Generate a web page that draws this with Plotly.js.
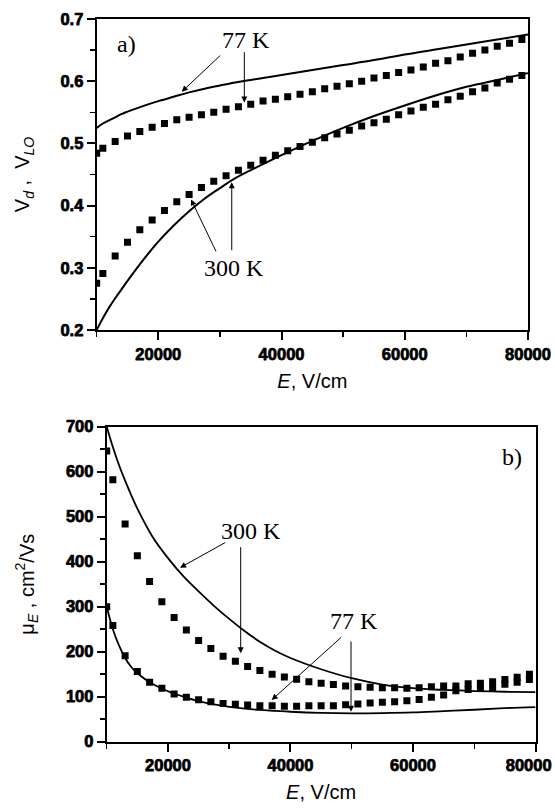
<!DOCTYPE html>
<html>
<head>
<meta charset="utf-8">
<script src="https://cdn.plot.ly/plotly-3.0.1.min.js"></script>
<style>
html,body{margin:0;padding:0;background:#fff;}
#chart{width:555px;height:812px;}
#chart .xtick text, #chart .ytick text, #chart .x2tick text, #chart .y2tick text {
  font-weight: bold !important; stroke: #000; stroke-width: 0.75px; stroke-linejoin: round;
}
</style>
</head>
<body>
<div id="chart"></div>
<script>
// Field values for the square points, V/cm
const E_points = [10000, 11000, 13000, 15000, 17000, 19000, 21000, 23000, 25000, 27000, 29000, 31000, 33000, 35000, 37000, 39000, 41000, 43000, 45000, 47000, 49000, 51000, 53000, 55000, 57000, 59000, 61000, 63000, 65000, 67000, 69000, 71000, 73000, 75000, 77000, 79000];
// Field values for the solid curves, V/cm
const E_curve = [10000, 11000, 12000, 13000, 14000, 15000, 17500, 20000, 22500, 25000, 27500, 30000, 32500, 35000, 37500, 40000, 45000, 50000, 55000, 60000, 65000, 70000, 75000, 80000];

// Panel a) velocities
const v_points_77K = [0.484, 0.492, 0.503, 0.512, 0.519, 0.526, 0.532, 0.538, 0.542, 0.546, 0.550, 0.555, 0.559, 0.563, 0.568, 0.571, 0.575, 0.579, 0.583, 0.588, 0.592, 0.596, 0.600, 0.605, 0.609, 0.614, 0.618, 0.623, 0.629, 0.633, 0.639, 0.645, 0.650, 0.656, 0.661, 0.667];
const v_points_300K = [0.275, 0.291, 0.319, 0.341, 0.361, 0.377, 0.392, 0.406, 0.418, 0.429, 0.439, 0.448, 0.457, 0.465, 0.473, 0.481, 0.488, 0.495, 0.502, 0.509, 0.515, 0.521, 0.528, 0.533, 0.539, 0.546, 0.552, 0.558, 0.563, 0.570, 0.576, 0.583, 0.589, 0.597, 0.603, 0.609];
const v_curve_77K = [0.525, 0.532, 0.537, 0.542, 0.547, 0.551, 0.560, 0.568, 0.575, 0.582, 0.588, 0.593, 0.598, 0.602, 0.606, 0.610, 0.618, 0.626, 0.634, 0.643, 0.651, 0.659, 0.667, 0.675];
const v_curve_300K = [0.200, 0.219, 0.236, 0.251, 0.265, 0.279, 0.312, 0.342, 0.368, 0.391, 0.411, 0.428, 0.444, 0.457, 0.469, 0.481, 0.504, 0.525, 0.544, 0.561, 0.577, 0.591, 0.602, 0.613];

// Panel b) mobilities, cm2/Vs
const mu_points_300K = [646, 582, 484, 413, 356, 311, 276, 248, 225, 207, 190, 179, 167, 158, 150, 144, 139, 133, 130, 127, 124, 122, 121, 120, 120, 119, 120, 122, 124, 124, 129, 130, 133, 138, 143, 150];
const mu_points_77K = [300, 258, 191, 156, 132, 119, 106, 99, 93, 89, 85, 83, 81.5, 80, 80, 79, 79, 80, 80, 80, 82, 84, 86, 87.5, 89, 91, 94, 99, 104, 113, 116, 118, 119, 127.5, 132, 138];
const mu_curve_300K = [700, 655, 615, 580, 548, 518, 455, 408, 368, 334, 302, 273, 246, 222, 202, 186, 161, 141, 127, 119, 115, 112.5, 111, 110];
const mu_curve_77K = [300, 250, 214, 186, 166, 152, 128, 112, 100, 90, 83, 77.5, 73.5, 70.5, 68.5, 66.5, 64, 63, 63.5, 65, 68, 71, 74.5, 77];

// Tick labels
const xTickVals = [20000, 40000, 60000, 80000];
const xTickText_a = ['20000', '40000', '60000', '80000'];
const xTickText_b = ['20000', '40000', '60000', '80000&nbsp;&nbsp;&nbsp;'];
const yTickVals_a = [0.2, 0.3, 0.4, 0.5, 0.6, 0.7];
const yTickText_a = ['0.2', '0.3', '0.4', '0.5', '0.6', '0.7'];
const yTickVals_b = [0, 100, 200, 300, 400, 500, 600, 700];
const yTickText_b = ['0', '100', '200', '300', '400', '500', '600', '700'];

const sans = 'Arial, "Liberation Sans", sans-serif';
const serif = '"Times New Roman", "Liberation Serif", serif';

const sq = {symbol: 'square', size: 7, color: '#000', line: {width: 0}};
const sp = {shape: 'spline', smoothing: 1, color: '#000'};
const traces = [
  {x: E_curve, y: v_curve_77K, mode: 'lines', line: Object.assign({width: 2}, sp), xaxis: 'x', yaxis: 'y', name: '77 K model'},
  {x: E_curve, y: v_curve_300K, mode: 'lines', line: Object.assign({width: 2}, sp), xaxis: 'x', yaxis: 'y', name: '300 K model'},
  {x: E_points, y: v_points_77K, mode: 'markers', marker: sq, xaxis: 'x', yaxis: 'y', name: '77 K'},
  {x: E_points, y: v_points_300K, mode: 'markers', marker: sq, xaxis: 'x', yaxis: 'y', name: '300 K'},
  {x: E_curve, y: mu_curve_300K, mode: 'lines', line: Object.assign({width: 1.8}, sp), xaxis: 'x2', yaxis: 'y2', name: '300 K model'},
  {x: E_curve, y: mu_curve_77K, mode: 'lines', line: Object.assign({width: 1.8}, sp), xaxis: 'x2', yaxis: 'y2', name: '77 K model'},
  {x: E_points, y: mu_points_300K, mode: 'markers', marker: sq, xaxis: 'x2', yaxis: 'y2', name: '300 K'},
  {x: E_points, y: mu_points_77K, mode: 'markers', marker: sq, xaxis: 'x2', yaxis: 'y2', name: '77 K'}
];

const tickfont = {family: sans, size: 16.5, weight: 700, color: '#000'};
const titlefont = {family: sans, size: 20, color: '#000'};
function axisBase(extra) {
  return Object.assign({
    showgrid: false, zeroline: false, showline: true, linecolor: '#000', linewidth: 2,
    mirror: true, ticks: 'outside', ticklen: 8, tickwidth: 2, tickcolor: '#000',
    tickfont: tickfont, automargin: false, tickmode: 'array', ticklabeloverflow: 'allow'
  }, extra);
}

function txt(x, y, text, xr, yr, size) {
  return {x: x, y: y, xref: xr, yref: yr, text: text, showarrow: false,
          font: {family: serif, size: size || 24, color: '#000'}};
}
function arr(x, y, ax, ay, xr, yr) {
  return {x: x, y: y, ax: ax, ay: ay, xref: xr, yref: yr, axref: xr, ayref: yr,
          text: '', showarrow: true, arrowhead: 2, arrowsize: 1.2, arrowwidth: 1, arrowcolor: '#000', standoff: 0};
}

const minorX = {dtick: 10000, tick0: 0, ticks: 'outside', ticklen: 5, tickwidth: 1.5, tickcolor: '#000'};

const layout = {
  width: 555, height: 812,
  margin: {l: 0, r: 0, t: 0, b: 0},
  paper_bgcolor: '#fff', plot_bgcolor: '#fff',
  showlegend: false,
  xaxis: axisBase({domain: [0.1742, 0.9514], anchor: 'y', range: [10000, 80000],
    tickvals: xTickVals, ticktext: xTickText_a, minor: minorX,
    title: {text: '<i>E</i>, V/cm', font: titlefont, standoff: 12}}),
  yaxis: axisBase({domain: [0.5936, 0.9766], anchor: 'x', range: [0.2, 0.7],
    tickvals: yTickVals_a, ticktext: yTickText_a,
    minor: {tickvals: [0.25, 0.35, 0.45, 0.55, 0.65], ticks: 'outside', ticklen: 5, tickwidth: 1.5, tickcolor: '#000'},
    title: {text: 'V<sub><i>d</i></sub> ,  V<sub><i>LO</i></sub>', font: titlefont, standoff: 25}}),
  xaxis2: axisBase({domain: [0.1923, 0.9649], anchor: 'y2', range: [10000, 80000],
    tickvals: xTickVals, ticktext: xTickText_b, minor: minorX,
    title: {text: '<i>E</i>, V/cm', font: titlefont, standoff: 12}}),
  yaxis2: axisBase({domain: [0.0866, 0.4745], anchor: 'x2', range: [0, 700],
    tickvals: yTickVals_b, ticktext: yTickText_b,
    minor: {tickvals: [50, 150, 250, 350, 450, 550, 650], ticks: 'outside', ticklen: 5, tickwidth: 1.5, tickcolor: '#000'},
    title: {text: 'μ<sub><i>E</i></sub> , cm<sup>2</sup>/Vs', font: titlefont, standoff: 26}}),
  annotations: [
    txt(14870, 0.660, 'a)', 'x', 'y'),
    txt(34200, 0.666, '77 K', 'x', 'y'),
    arr(23800, 0.583, 30290, 0.6435, 'x', 'y'),
    arr(33960, 0.5656, 33960, 0.649, 'x', 'y'),
    txt(32320, 0.2995, '300 K', 'x', 'y'),
    arr(25310, 0.410, 29480, 0.324, 'x', 'y'),
    arr(31920, 0.4376, 31920, 0.326, 'x', 'y'),
    txt(76100, 632.7, 'b)', 'x2', 'y2'),
    txt(33520, 468.7, '300 K', 'x2', 'y2'),
    arr(21970, 386.7, 29590, 444.4, 'x2', 'y2'),
    arr(31870, 196.4, 31870, 435.6, 'x2', 'y2'),
    txt(50400, 268.7, '77 K', 'x2', 'y2'),
    arr(36930, 92.7, 48520, 234.9, 'x2', 'y2'),
    arr(49880, 66.7, 49880, 226, 'x2', 'y2')
  ]
};

Plotly.newPlot('chart', traces, layout, {displayModeBar: false, staticPlot: true});
</script>
</body>
</html>
